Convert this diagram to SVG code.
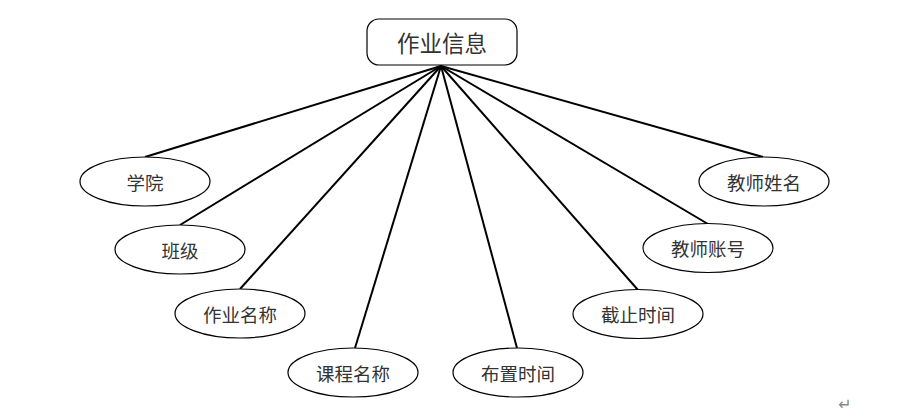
<svg xmlns="http://www.w3.org/2000/svg" width="920" height="416" viewBox="0 0 920 416">
<style>
.e{fill:#fff;stroke:#000;stroke-width:1.2}
.t{font-family:"Noto Sans CJK SC","Liberation Sans",sans-serif;font-size:18.5px;fill:#333;text-anchor:middle;dominant-baseline:central}
.c line{stroke:#000;stroke-width:2}
</style>
<rect width="920" height="416" fill="#fff"/>
<g class="c" id="connectors">
<line x1="441" y1="66" x2="145" y2="157"/>
<line x1="441" y1="66" x2="180" y2="225"/>
<line x1="441" y1="66" x2="240" y2="289"/>
<line x1="441" y1="66" x2="355" y2="348"/>
<line x1="441" y1="66" x2="517" y2="348"/>
<line x1="441" y1="66" x2="638" y2="290"/>
<line x1="441" y1="66" x2="708" y2="224"/>
<line x1="441" y1="66" x2="763" y2="157"/>
</g>
<g id="root">
<rect x="367" y="19" width="150" height="46" rx="12" fill="#fff" stroke="#000" stroke-width="1.2"/>
<text class="t" x="442" y="42" style="font-size:22.5px">作业信息</text>
</g>
<g id="n1"><ellipse class="e" cx="145" cy="181.5" rx="65" ry="24.5"/><text class="t" x="145" y="181.5">学院</text></g>
<g id="n2"><ellipse class="e" cx="180" cy="249.5" rx="65" ry="24.5"/><text class="t" x="180" y="249.5">班级</text></g>
<g id="n3"><ellipse class="e" cx="240" cy="313.5" rx="65" ry="24.5"/><text class="t" x="240" y="313.5">作业名称</text></g>
<g id="n4"><ellipse class="e" cx="353" cy="372.5" rx="65" ry="24.5"/><text class="t" x="353" y="372.5">课程名称</text></g>
<g id="n5"><ellipse class="e" cx="518" cy="372.5" rx="65" ry="24.5"/><text class="t" x="518" y="372.5">布置时间</text></g>
<g id="n6"><ellipse class="e" cx="638" cy="314" rx="65" ry="24.5"/><text class="t" x="638" y="314">截止时间</text></g>
<g id="n7"><ellipse class="e" cx="708" cy="248" rx="65" ry="24.5"/><text class="t" x="708" y="248">教师账号</text></g>
<g id="n8"><ellipse class="e" cx="764" cy="181.5" rx="65" ry="24.5"/><text class="t" x="764" y="181.5">教师姓名</text></g>
<text x="845" y="410" style="font-family:'DejaVu Sans',sans-serif;font-size:16px;fill:#888;text-anchor:middle">↵</text>
</svg>
